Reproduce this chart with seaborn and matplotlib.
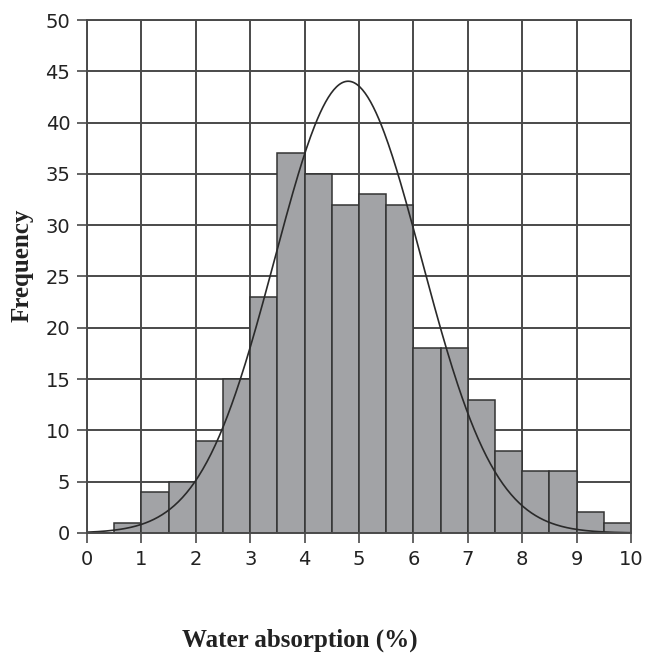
import numpy as np
import pandas as pd
import matplotlib
matplotlib.use("Agg")
import matplotlib.pyplot as plt
import seaborn as sns

# Data
bin_edges = [0.0, 0.5, 1.0, 1.5, 2.0, 2.5, 3.0, 3.5, 4.0, 4.5, 5.0,
             5.5, 6.0, 6.5, 7.0, 7.5, 8.0, 8.5, 9.0, 9.5, 10.0]
counts = [0, 1, 4, 5, 9, 15, 23, 37, 35, 32, 33, 32, 18, 18, 13, 8, 6, 6, 2, 1]
fit_mean = 4.8
fit_sd = 1.35
x_ticks = list(range(0, 11))
y_ticks = list(range(0, 51, 5))

sns.set_theme(style="white")
plt.rcParams['font.family'] = ['DejaVu Sans']

centers = [(bin_edges[i] + bin_edges[i + 1]) / 2 for i in range(len(counts))]
df = pd.DataFrame({"absorption": centers, "freq": counts})

fig = plt.figure(figsize=(6.46, 6.58), dpi=100)
ax = fig.add_axes([0.1347, 0.19, 0.8421, 0.7796])

grid_c = "#4a4a4a"
ax.set_axisbelow(True)
ax.grid(True, color=grid_c, linewidth=1.4)

sns.histplot(data=df, x="absorption", weights="freq", bins=bin_edges,
             color="#a2a3a6", edgecolor="#333333", linewidth=1.1, alpha=1.0, ax=ax)

# Fitted normal curve scaled to counts
n_total = sum(counts)
bw = bin_edges[1] - bin_edges[0]
xs = np.linspace(0, 10, 400)
ys = n_total * bw / (fit_sd * np.sqrt(2 * np.pi)) * np.exp(-0.5 * ((xs - fit_mean) / fit_sd) ** 2)
sns.lineplot(x=xs, y=ys, color="#2a2a2a", linewidth=1.2, ax=ax)

ax.set_xlim(0, 10)
ax.set_ylim(0, 50)
ax.set_xticks(x_ticks)
ax.set_yticks(y_ticks)
ax.tick_params(axis="both", direction="out", length=7, width=1.2, color=grid_c,
               labelsize=14, labelcolor="#222222", bottom=True, left=True, pad=5)
for s in ax.spines.values():
    s.set_color(grid_c)
    s.set_linewidth(1.4)
    s.set_visible(True)
ax.set_xlabel("")
ax.set_ylabel("")

fig.text(300 / 646, 1 - 640 / 658, "Water absorption (%)", ha="center", va="center",
         fontsize=18, fontweight="bold", family="Liberation Serif", color="#222222")
fig.text(22 / 646, 1 - 265 / 658, "Frequency", ha="center", va="center", rotation=90,
         fontsize=18, fontweight="bold", family="Liberation Serif", color="#222222")

fig.savefig("out.png", dpi=100)
